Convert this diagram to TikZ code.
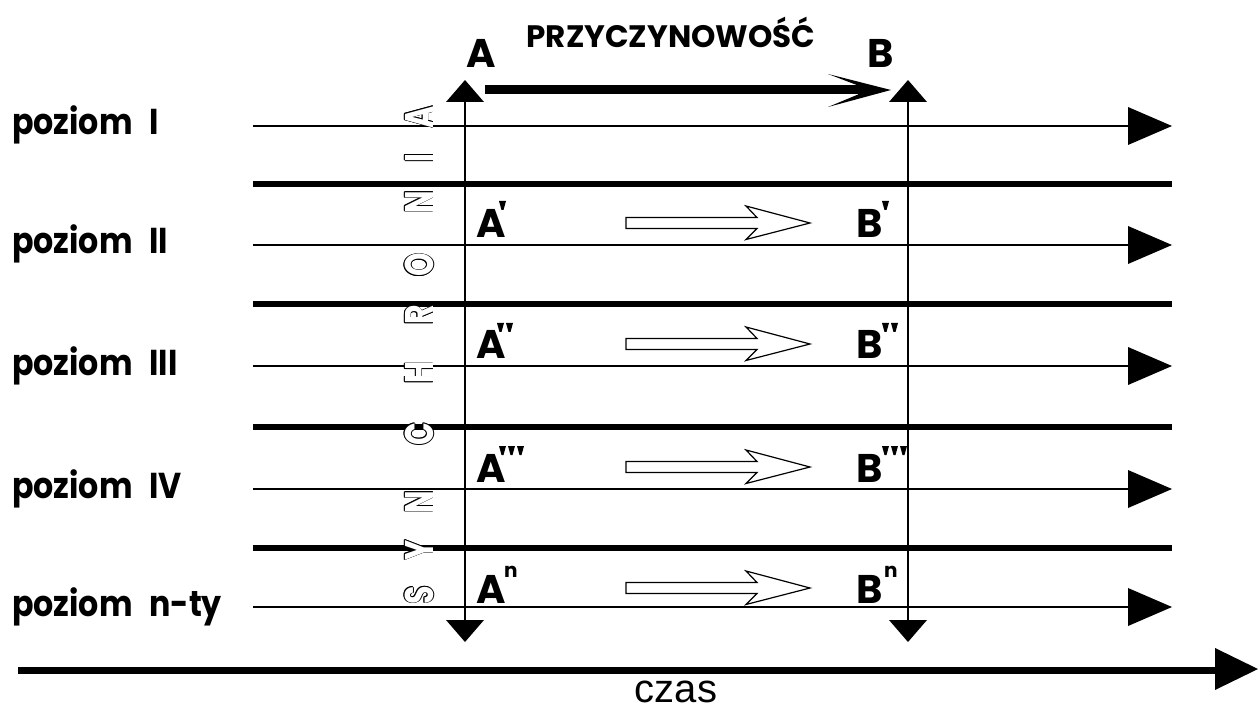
\documentclass[tikz,border=0pt]{standalone}
\usepackage{fontspec}
\setmainfont{Liberation Sans}
\newfontfamily\pop{Poppins}
\newcommand\hol[1]{%
 \makebox[0pt][l]{\hspace*{0.9pt}#1}%
 \makebox[0pt][l]{\hspace*{-0.9pt}#1}%
 \makebox[0pt][l]{\raisebox{0.9pt}{#1}}%
 \makebox[0pt][l]{\raisebox{-0.9pt}{#1}}%
 \makebox[0pt][l]{\hspace*{0.65pt}\raisebox{0.65pt}{#1}}%
 \makebox[0pt][l]{\hspace*{-0.65pt}\raisebox{0.65pt}{#1}}%
 \makebox[0pt][l]{\hspace*{0.65pt}\raisebox{-0.65pt}{#1}}%
 \makebox[0pt][l]{\hspace*{-0.65pt}\raisebox{-0.65pt}{#1}}%
 \textcolor{white}{#1}}
\newcommand\lvltext[1]{\scalebox{0.88}[1]{#1}}
\tikzset{
 lvl/.style={line width=1.3pt},
 sepline/.style={line width=6pt},
 vline/.style={line width=1.5pt},
 lab/.style={font=\pop\bfseries\fontsize{36}{36}\selectfont, inner sep=0pt, anchor=base west},
 big/.style={font=\pop\bfseries\fontsize{40}{40}\selectfont, inner sep=0pt, anchor=base west},
 sup/.style={font=\pop\bfseries\fontsize{20}{20}\selectfont, inner sep=0pt, anchor=base west},
 synl/.style={font=\pop\bfseries\fontsize{40}{40}\selectfont, inner sep=0pt, rotate=90},
 czasl/.style={font=\fontsize{40}{40}\selectfont, inner sep=0pt, text depth=0pt, anchor=base},
 pr/.pic={\fill (0,0) -- (7,0) -- (4.5,9) -- (2.5,9) -- cycle;},
 harrow/.pic={\draw[line width=1.2pt, fill=white] (0,-5.5) -- (131,-5.5) -- (120,-17) -- (184,0) -- (120,16.5) -- (131,5.5) -- (0,5.5) -- cycle;}
}
\begin{document}
\begin{tikzpicture}[x=1pt,y=-1pt]
\useasboundingbox (0,0) rectangle (1260,708);
% level lines
\foreach \i/\y in {1/126,2/245,3/366,4/489,5/607}{
  \coordinate (lw\i) at (253,\y);
  \coordinate (le\i) at (1130,\y);
  \draw[lvl] (lw\i) -- (le\i);
  \fill (1128,\y-19) -- (1172,\y) -- (1128,\y+19) -- cycle;
}
% separators
\foreach \i/\y in {1/184.5,2/304,3/427,4/548}{
  \coordinate (sw\i) at (253,\y);
  \coordinate (se\i) at (1172,\y);
  \draw[sepline] (sw\i) -- (se\i);
}
% vertical synchrony lines
\coordinate (vat) at (465,102); \coordinate (vab) at (465,620);
\coordinate (vbt) at (908,102); \coordinate (vbb) at (908,620);
\draw[vline] (vat) -- (vab);
\draw[vline] (vbt) -- (vbb);
\fill (446,102) -- (465,80) -- (484,102) -- cycle;
\fill (889,102) -- (908,80) -- (927,102) -- cycle;
\fill (446,620) -- (465,642) -- (484,620) -- cycle;
\fill (889,620) -- (908,642) -- (927,620) -- cycle;
% causality arrow
\coordinate (ca) at (485,90); \coordinate (cb) at (860,90);
\draw[line width=9pt] (ca) -- (cb);
\fill (891,90) -- (828,74) -- (858,85.5) -- (858,94.5) -- (828,107) -- cycle;
\node[big] (A) at (466,68) {A};
\node[big] (B) at (867,68) {B};
\node[font=\pop\bfseries\fontsize{31}{31}\selectfont, inner sep=0pt, anchor=base] (prz) at (671,48) {PRZYCZYNOWOŚĆ};
% level labels
\node[lab] (p1) at (12,135) {\lvltext{poziom\hspace{19pt}I}};
\node[lab] (p2) at (12,254) {\lvltext{poziom\hspace{19pt}II}};
\node[lab] (p3) at (12,375) {\lvltext{poziom\hspace{19pt}III}};
\node[lab] (p4) at (12,498) {\lvltext{poziom\hspace{19pt}IV}};
\node[lab] (p5) at (12,616) {\lvltext{poziom\hspace{19pt}n-ty}};
% row letters
\foreach \r/\b in {2/238,3/359,4/482,5/603}{
  \node[big] (A\r) at (476,\b) {A};
  \node[big] (B\r) at (856,\b) {B};
  \pic at (626,\b-15) {harrow};
}
\pic at (499,201) {pr};
\pic at (882,201) {pr};
\pic at (497,323) {pr}; \pic at (506,323) {pr};
\pic at (882,323) {pr}; \pic at (891,323) {pr};
\pic at (499,446) {pr}; \pic at (508,446) {pr}; \pic at (517,446) {pr};
\pic at (882,446) {pr}; \pic at (891,446) {pr}; \pic at (900,446) {pr};
\node[sup] (nA) at (504,577) {n};
\node[sup] (nB) at (884,577) {n};
% SYNCHRONIA
\foreach \l/\y [count=\k] in {S/595,Y/550,N/502,C/434,H/373,R/315,O/265,N/202,I/158,A/117}{
  \node[synl] (s\k) at (419,\y) {\scalebox{0.75}[1]{\hol{\l}}};
}
% time axis
\coordinate (t0) at (18,670); \coordinate (t1) at (1216,670);
\draw[line width=7pt] (t0) -- (t1);
\fill (1215,648) -- (1258,669) -- (1215,690) -- cycle;
\node[czasl] (czas) at (676,702) {czas};
\end{tikzpicture}
\end{document}
